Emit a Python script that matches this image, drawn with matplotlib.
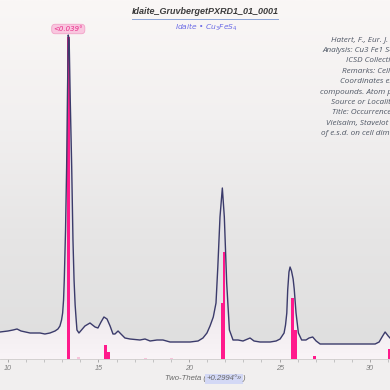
import numpy as np
import matplotlib
matplotlib.use("Agg")
import matplotlib.pyplot as plt
from matplotlib.colors import LinearSegmentedColormap
from matplotlib.patches import Polygon

# ---------------- data ----------------
two_theta = [9.56, 10.00, 10.28, 10.50, 10.72, 11.22, 11.77, 12.04, 12.32, 12.60,
             12.76, 12.87, 12.96, 13.02, 13.07, 13.11, 13.18, 13.24, 13.29, 13.33,
             13.38, 13.44, 13.52, 13.59, 13.65, 13.71, 13.76, 13.81, 13.92, 14.25,
             14.53, 14.81, 14.97, 15.14, 15.30, 15.47, 15.64, 15.80, 15.91, 16.08,
             16.24, 16.46, 16.74, 17.29, 17.57, 17.85, 18.23, 18.56, 18.95, 19.50,
             20.06, 20.50, 20.77, 20.99, 21.16, 21.34, 21.49, 21.59, 21.71, 21.84,
             21.95, 22.08, 22.23, 22.43, 22.71, 22.98, 23.37, 23.59, 23.92, 24.48,
             24.81, 25.03, 25.25, 25.33, 25.40, 25.45, 25.52, 25.58, 25.66, 25.75,
             25.81, 25.91, 26.04, 26.22, 26.46, 26.63, 26.83, 27.02, 27.24, 28.34,
             29.45, 30.28, 30.50, 30.66, 30.83, 31.00, 31.10]
intensity = [27, 28, 29, 30, 28, 26, 26, 25, 26, 28,
             30, 33, 39, 46, 59, 79, 129, 192, 269, 324,
             319, 259, 192, 119, 79, 54, 41, 29, 26, 33,
             36, 32, 31, 37, 42, 40, 33, 25, 25, 28,
             25, 21, 20, 19, 20, 18, 19, 19, 17, 17,
             17, 18, 21, 26, 33, 42, 56, 92, 142, 171,
             142, 76, 29, 19, 19, 18, 21, 18, 17, 17,
             18, 20, 26, 34, 46, 69, 87, 92, 88, 80,
             70, 46, 26, 19, 19, 21, 22, 18, 15, 15,
             15, 15, 17, 22, 27, 23, 21]

stick_pos = [13.35, 13.92, 15.41, 15.54, 17.62, 19.01, 21.84, 21.93, 25.71, 25.87, 26.94, 31.05]
stick_int = [322, 2, 14, 7, 1.5, 1.5, 56, 107, 61, 29, 3, 10]
stick_strong = [True, False, True, True, False, False, True, True, True, True, True, True]

x_ticks = [10, 15, 20, 25, 30]
title = "Idaite_GruvbergetPXRD1_01_0001"
subtitle = "Idaite \u2022 Cu$_3$FeS$_4$"
peak_label = "<0.039\u00b0"
xlabel_parts = ["Two-Theta (", "+0.2994\u00b0\u00bb", ")"]
info_lines = ["Hatert, F., Eur. J. Mineral. (2005)",
              "Analysis: Cu3 Fe1 S4",
              "ICSD Collection Code: 160814",
              "Remarks: Cell at 295K.",
              "Coordinates estimated from",
              "compounds. Atom positions assumed",
              "Source or Locality: Belgium",
              "Title: Occurrence of idaite",
              "Vielsalm, Stavelot Massif, Belgium",
              "of e.s.d. on cell dimensions"]
info_x = [331, 322, 346, 342, 340, 320, 331, 332, 326, 321]

# ---------------- figure ----------------
W = H = 390
fig = plt.figure(figsize=(3.9, 3.9), dpi=100)
fig.patch.set_facecolor("#f1efef")

ax_bottom_px = 359
ax = fig.add_axes([0, (H - ax_bottom_px) / H, 1, ax_bottom_px / H])
xmin, xmax = 9.56, 31.10
ymax = ax_bottom_px
ax.set_xlim(xmin, xmax)
ax.set_ylim(0, ymax)

# background gradient (top light -> bottom gray)
bg = LinearSegmentedColormap.from_list("bg", ["#dedede", "#e6e5e5", "#f2f0f0", "#faf7f6"])
grad = np.linspace(0, 1, 256).reshape(-1, 1)
ax.imshow(grad, cmap=bg, aspect="auto", extent=[xmin, xmax, 0, ymax],
          origin="lower", zorder=0)

# fill below curve with pinkish-white gradient
fill_cmap = LinearSegmentedColormap.from_list(
    "fill", [(0, "#f9f4f7"), (0.08, "#f3eef1"), (0.16, "#e6e4e8"), (1, "#dcdce2")])
poly_xy = list(zip(two_theta, intensity)) + [(two_theta[-1], 0), (two_theta[0], 0)]
poly = Polygon(poly_xy, closed=True, facecolor="none", edgecolor="none")
ax.add_patch(poly)
im = ax.imshow(grad, cmap=fill_cmap, aspect="auto", extent=[xmin, xmax, 0, ymax],
               origin="lower", zorder=1)
im.set_clip_path(poly)

# sticks
for p, v, s in zip(stick_pos, stick_int, stick_strong):
    ax.bar(p, v, width=0.16, color="#ff1a8c" if s else "#f7b8d4",
           alpha=1.0 if s else 0.8, zorder=3, linewidth=0)

# curve
ax.plot(two_theta, intensity, color="#3b3b6b", lw=1.0, zorder=4)

# peak label
ax.text(13.33, 330, peak_label, ha="center", va="center", fontsize=5.0,
        style="italic", color="#e8308a",
        bbox=dict(boxstyle="round,pad=0.25,rounding_size=0.5",
                  fc="#f9c6df", ec="#f2a2c8", lw=0.6), zorder=6)

# axes styling
for s in ["top", "left", "right"]:
    ax.spines[s].set_visible(False)
ax.spines["bottom"].set_color("#cfcccc")
ax.spines["bottom"].set_linewidth(0.6)
ax.set_yticks([])
ax.set_xticks(x_ticks)
ax.set_xticks(np.arange(10, 32, 1), minor=True)
ax.tick_params(axis="x", which="major", length=2.5, width=0.6, color="#9a9a9a",
               labelsize=5.2, labelcolor="#808080", pad=1.5)
ax.tick_params(axis="x", which="minor", length=2.5, width=0.5, color="#b0b0b0")
for lab in ax.get_xticklabels():
    lab.set_style("italic")
    lab.set_family("Liberation Sans")
ax.set_facecolor("none")

# x label with highlighted offset
renderer = fig.canvas.get_renderer()
xpos = 165
ylab = 1 - 379 / H
for i, part in enumerate(xlabel_parts):
    kw = dict(fontsize=5.6, style="italic", color="#6a6a6a", ha="left",
              va="center", family="Liberation Sans")
    if i == 1:
        kw["bbox"] = dict(boxstyle="square,pad=0.15", fc="#d3d8f5", ec="none")
    t = fig.text(xpos / W, ylab, part, **kw)
    bb = t.get_window_extent(renderer=renderer)
    xpos += bb.width + (1.2 if i == 1 else 0.6)

# title
fig.text(205 / W, 1 - 12 / H, title, fontsize=6.5, fontweight="bold",
         style="italic", color="#3c3c3c", ha="center", va="center",
         family="Liberation Sans")
fig.add_artist(plt.Line2D([132 / W, 278 / W], [1 - 18.5 / H, 1 - 18.5 / H],
                          color="#6f8fd0", lw=0.7, alpha=0.8))
fig.text(206 / W, 1 - 27 / H, subtitle, fontsize=5.4, style="italic",
         color="#6a6ae6", ha="center", va="center")

# info block
for i, (t, xs) in enumerate(zip(info_lines, info_x)):
    fig.text(xs / W, 1 - (40 + i * 10.4) / H, t, fontsize=5.85, style="italic",
             color="#505866", ha="left", va="center", family="Open Sans")

fig.savefig("out.png", dpi=100, facecolor=fig.get_facecolor())
